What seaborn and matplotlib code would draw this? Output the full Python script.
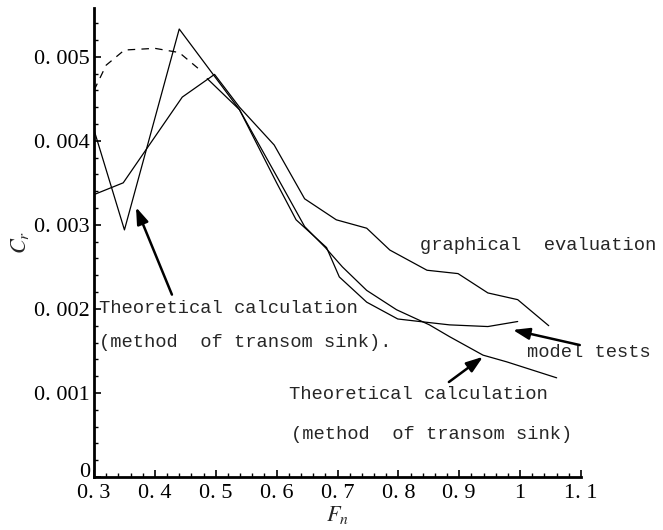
import numpy as np
import pandas as pd
import matplotlib
matplotlib.use("Agg")
import matplotlib.pyplot as plt
from matplotlib.ticker import MultipleLocator, FixedLocator
import seaborn as sns

# ---- data ----
# Theoretical calculation (method of transom sink) - zigzag curve
theo_x = [0.30, 0.35, 0.44, 0.539, 0.60, 0.646, 0.68, 0.708, 0.748, 0.797, 0.851, 0.884, 0.939, 0.978, 1.06]
theo_y = [0.00413, 0.00294, 0.00533, 0.00437, 0.00358, 0.00298, 0.00273, 0.00250, 0.00222, 0.00199, 0.00181, 0.00167, 0.00145, 0.00137, 0.00118]

# graphical evaluation
graph_x = [0.30, 0.348, 0.445, 0.498, 0.539, 0.596, 0.646, 0.698, 0.748, 0.786, 0.847, 0.898, 0.947, 0.996, 1.047]
graph_y = [0.00336, 0.00350, 0.00452, 0.00479, 0.00440, 0.00395, 0.00331, 0.00306, 0.00296, 0.00270, 0.00246, 0.00242, 0.00219, 0.00211, 0.00180]

# model tests (solid part)
model_x = [0.486, 0.539, 0.60, 0.632, 0.682, 0.703, 0.748, 0.799, 0.835, 0.884, 0.947, 0.996]
model_y = [0.00474, 0.00437, 0.00350, 0.00306, 0.00273, 0.00238, 0.00208, 0.00188, 0.00185, 0.00181, 0.00179, 0.00185]

# model tests (dashed part, low Froude numbers)
dash_x = [0.30, 0.32, 0.35, 0.40, 0.44, 0.473]
dash_y = [0.00460, 0.00490, 0.00508, 0.00510, 0.00505, 0.00485]

x_ticks = [0.3, 0.4, 0.5, 0.6, 0.7, 0.8, 0.9, 1.0, 1.1]
x_ticklabels = ["0. 3", "0. 4", "0. 5", "0. 6", "0. 7", "0. 8", "0. 9", "1", "1. 1"]
y_ticks = [0, 0.001, 0.002, 0.003, 0.004, 0.005]
y_ticklabels = ["0", "0. 001", "0. 002", "0. 003", "0. 004", "0. 005"]

# ---- style ----
sns.set_style("ticks")
plt.rcParams["font.family"] = ["Liberation Serif", "DejaVu Serif"]
plt.rcParams["mathtext.fontset"] = "stix"

fig = plt.figure(figsize=(6.63, 5.30), dpi=100)
ax = fig.add_axes([94 / 663, 1 - 477 / 530, (581 - 94) / 663, (477 - 8) / 530])

lw = 0.9
sns.lineplot(x=theo_x, y=theo_y, ax=ax, color="black", lw=lw, sort=False, estimator=None)
sns.lineplot(x=graph_x, y=graph_y, ax=ax, color="black", lw=lw, sort=False, estimator=None)
sns.lineplot(x=model_x, y=model_y, ax=ax, color="black", lw=lw, sort=False, estimator=None)
sns.lineplot(x=dash_x, y=dash_y, ax=ax, color="black", lw=lw, sort=False, estimator=None,
             linestyle=(0, (6, 5)))

ax.set_xlim(0.3, 1.1)
ax.set_ylim(0, 0.00558)

ax.xaxis.set_major_locator(FixedLocator(x_ticks))
ax.set_xticklabels(x_ticklabels)
ax.yaxis.set_major_locator(FixedLocator(y_ticks))
ax.set_yticklabels(y_ticklabels)
ax.xaxis.set_minor_locator(MultipleLocator(0.02))
ax.yaxis.set_minor_locator(MultipleLocator(0.0002))

ax.tick_params(axis="both", which="major", direction="in", length=5, width=1.2,
               labelsize=16, color="black", labelcolor="black", pad=3)
ax.tick_params(axis="both", which="minor", direction="in", length=3, width=1.0, color="black")
ax.tick_params(axis="x", which="major", pad=5)

# the "0" label sits a little above the x axis in the reference
ax.get_yticklabels()[0].set_va("baseline")

for side in ["top", "right"]:
    ax.spines[side].set_visible(False)
for side in ["left", "bottom"]:
    ax.spines[side].set_linewidth(2.0)
    ax.spines[side].set_color("black")

ax.set_xlabel(r"$\mathbf{\mathit{F}}_{n}$", fontsize=16, labelpad=1)
ax.set_ylabel(r"$C_{r}$", fontsize=16, labelpad=2)

# ---- annotations ----
mono = ["Liberation Mono", "DejaVu Sans Mono"]
fs = 13.5
ax.text(0.308, 0.00201, "Theoretical calculation", family=mono, fontsize=fs, va="center", ha="left")
ax.text(0.308, 0.00160, "(method  of transom sink).", family=mono, fontsize=fs, va="center", ha="left")
ax.text(0.835, 0.00276, "graphical  evaluation", family=mono, fontsize=fs, va="center", ha="left",
        clip_on=False)
ax.text(1.011, 0.00148, "model tests", family=mono, fontsize=fs, va="center", ha="left", clip_on=False)
ax.text(0.621, 0.00098, "Theoretical calculation", family=mono, fontsize=fs, va="center", ha="left")
ax.text(0.624, 0.00050, "(method  of transom sink)", family=mono, fontsize=fs, va="center", ha="left")

arrow = dict(arrowstyle="-|>,head_length=1.0,head_width=0.35", color="black", lw=1.8,
             shrinkA=0, shrinkB=0)
ax.annotate("", xy=(0.369, 0.00321), xytext=(0.428, 0.00217), arrowprops=arrow)
ax.annotate("", xy=(0.988, 0.00175), xytext=(1.098, 0.00157), arrowprops=arrow,
            annotation_clip=False)
ax.annotate("", xy=(0.939, 0.00143), xytext=(0.883, 0.00113), arrowprops=arrow)

fig.savefig("out.png", dpi=100)
